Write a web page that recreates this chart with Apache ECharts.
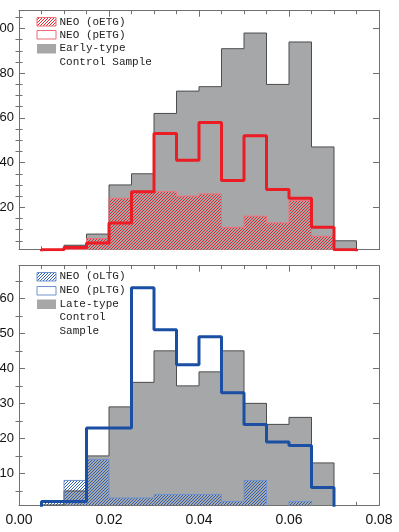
<!DOCTYPE html>
<html>
<head>
<meta charset="utf-8">
<script src="https://cdn.jsdelivr.net/npm/echarts@6/dist/echarts.min.js"></script>
<style>html,body{margin:0;padding:0;background:#fff}#c{width:399px;height:532px}</style>
</head>
<body>
<div id="c"></div>
<script>
// ---- data ----
const binEdges = [0.005, 0.010, 0.015, 0.020, 0.025, 0.030, 0.035, 0.040, 0.045, 0.050, 0.055, 0.060, 0.065, 0.070, 0.075];
// top panel (early-type)
const etgControl = [1, 3, 8, 30, 35, 62, 72, 74, 91, 98, 75, 94, 47, 5];
const etgO       = [1, 1, 6, 24, 27, 27, 25, 26, 11, 16, 13, 23, 7, 0];
const etgP       = [1, 2, 4, 13, 27, 53, 41, 58, 32, 52, 28, 24, 11, 1];
// bottom panel (late-type)
const ltgControl = [1, 5, 15, 29, 36, 45, 35, 39, 45, 30, 24, 26, 13, 0];
const ltgO       = [2, 8, 14, 3, 3, 4, 4, 4, 2, 8, 0, 2, 0, 0];
const ltgP       = [2, 2, 23, 23, 63, 51, 41, 49, 33, 24, 19, 18, 6, 0];
// ticks
const xMajor = [0, 0.02, 0.04, 0.06, 0.08];
const topYLabels = [20, 40, 60, 80, 100];
const topYMinor = [5, 10, 15, 25, 30, 35, 45, 50, 55, 65, 70, 75, 85, 90, 95, 105];
const botYLabels = [10, 20, 30, 40, 50, 60];
const botYMinor = [5, 15, 25, 35, 45, 55, 65];
const legendTop = ['NEO (oETG)', 'NEO (pETG)', 'Early-type', 'Control Sample'];
const legendBot = ['NEO (oLTG)', 'NEO (pLTG)', 'Late-type', 'Control', 'Sample'];

// ---- styles ----
const GREY = '#a6a7a9', GREY_EDGE = '#4d4d4d';
const RED = '#ec1c24', BLUE = '#1a4fa3';
const AX = '#707070';
const RANGES = [[1, 108], [0.9, 69.3]];

function hatch(color) {
  const c = document.createElement('canvas');
  c.width = 3; c.height = 3;
  const ctx = c.getContext('2d');
  ctx.fillStyle = color;
  for (let i = 0; i < 3; i++) ctx.fillRect(i, 2 - i, 1, 1);
  return { image: c, repeat: 'repeat' };
}
const redHatch = hatch('#e8262e');
const blueHatch = hatch('#3461b0');

const chart = echarts.init(document.getElementById('c'), null, { renderer: 'canvas' });

function rectData(vals) { return vals.map((v, i) => [binEdges[i], binEdges[i + 1], v]); }
function stepData(vals) {
  const d = [[binEdges[0], 0]];
  vals.forEach((v, i) => d.push([binEdges[i], v]));
  d.push([binEdges[binEdges.length - 1], 0]);
  return d;
}
function rectSeries(vals, fill, g, z) {
  const base = RANGES[g][0];
  return {
    type: 'custom', xAxisIndex: g * 2, yAxisIndex: g * 4, clip: true, z: z, silent: true,
    data: rectData(vals), encode: { x: [0, 1], y: 2 },
    renderItem: function (params, api) {
      const v = api.value(2);
      if (v <= base) return null;
      const p0 = api.coord([api.value(0), v]);
      const p1 = api.coord([api.value(1), base]);
      const x0 = Math.round(p0[0]), x1 = Math.round(p1[0]);
      const y0 = Math.round(p0[1]), y1 = Math.round(p1[1]);
      return { type: 'rect', shape: { x: x0, y: y0, width: x1 - x0, height: y1 - y0 }, style: { fill: fill } };
    }
  };
}
function lineSeries(vals, color, width, g, z) {
  return {
    type: 'line', xAxisIndex: g * 2, yAxisIndex: g * 4, step: 'end', symbol: 'none', z: z, silent: true,
    data: stepData(vals), lineStyle: { color: color, width: width }, clip: true
  };
}

const grids = [
  { left: 19, right: 20, top: 10.7, height: 239, outerBoundsMode: 'none', containLabel: false },
  { left: 19, right: 20, top: 265.7, height: 239.6, outerBoundsMode: 'none', containLabel: false }
];

const xAxes = [], yAxes = [];
[0, 1].forEach(g => {
  ['bottom', 'top'].forEach(pos => {
    xAxes.push({
      type: 'value', gridIndex: g, position: pos, min: 0, max: 0.08, interval: 0.02,
      axisLine: { show: true, onZero: false, lineStyle: { color: AX, width: 1 } },
      axisTick: { show: true, inside: true, length: 6, lineStyle: { color: AX } },
      minorTick: { show: true, splitNumber: 4, length: 3.5, lineStyle: { color: AX } },
      splitLine: { show: false },
      axisLabel: {
        show: g === 1 && pos === 'bottom', margin: 8, fontSize: 14, color: '#111',
        fontFamily: 'Liberation Sans', formatter: v => v.toFixed(2)
      }
    });
  });
  const labs = g === 0 ? topYLabels : botYLabels;
  const mins = g === 0 ? topYMinor : botYMinor;
  ['left', 'right'].forEach(pos => {
    yAxes.push({
      type: 'value', gridIndex: g, position: pos, min: RANGES[g][0], max: RANGES[g][1],
      axisLine: { show: true, onZero: false, lineStyle: { color: AX, width: 1 } },
      axisTick: { show: true, inside: true, length: 6, customValues: labs, lineStyle: { color: AX } },
      splitLine: { show: false },
      axisLabel: { show: pos === 'left', customValues: labs, margin: 5, fontSize: 13, color: '#111', fontFamily: 'Liberation Sans' }
    });
    yAxes.push({
      type: 'value', gridIndex: g, position: pos, min: RANGES[g][0], max: RANGES[g][1],
      axisLine: { show: false },
      axisTick: { show: true, inside: true, length: 3.5, customValues: mins, lineStyle: { color: AX } },
      splitLine: { show: false },
      axisLabel: { show: false, customValues: mins }
    });
  });
});

const series = [
  rectSeries(etgControl, GREY, 0, 1),
  rectSeries(etgO, redHatch, 0, 2),
  lineSeries(etgControl, GREY_EDGE, 1, 0, 3),
  lineSeries(etgO, '#f0707a', 1, 0, 4),
  lineSeries(etgP, RED, 3, 0, 5),
  rectSeries(ltgControl, GREY, 1, 1),
  rectSeries(ltgO, blueHatch, 1, 2),
  lineSeries(ltgControl, GREY_EDGE, 1, 1, 3),
  lineSeries(ltgO, '#6f93d0', 1, 1, 4),
  lineSeries(ltgP, BLUE, 3, 1, 5)
];

const TXT = { fontFamily: 'Liberation Mono', fontSize: 11, fill: '#222', verticalAlign: 'middle' };
function t(str, y) { return { type: 'text', x: 59.5, y: y, style: Object.assign({ text: str }, TXT), z: 10 }; }
function r(y, h, style) { return { type: 'rect', shape: { x: 37, y: y, width: 19, height: h }, style: style, z: 10 }; }
const graphic = [
  r(17.5, 8.5, { fill: redHatch, stroke: '#f06a72', lineWidth: 1 }),
  r(30.5, 8.5, { fill: '#fff', stroke: '#f06a72', lineWidth: 1 }),
  r(44, 9.5, { fill: GREY }),
  t(legendTop[0], 22), t(legendTop[1], 35), t(legendTop[2], 48.5), t(legendTop[3], 62),
  r(272.5, 8.5, { fill: blueHatch, stroke: '#6f93d0', lineWidth: 1 }),
  r(286.5, 8.5, { fill: '#fff', stroke: '#6f93d0', lineWidth: 1 }),
  r(299.5, 9.5, { fill: GREY }),
  t(legendBot[0], 276.5), t(legendBot[1], 290.5), t(legendBot[2], 304), t(legendBot[3], 317.5), t(legendBot[4], 331)
];

chart.setOption({
  animation: false,
  backgroundColor: '#fff',
  grid: grids,
  xAxis: xAxes,
  yAxis: yAxes,
  series: series,
  graphic: graphic
});
</script>
</body>
</html>
